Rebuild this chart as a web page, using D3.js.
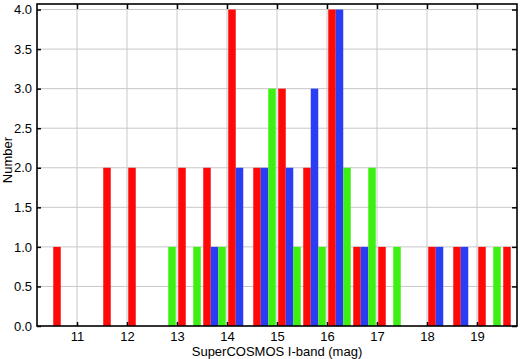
<!DOCTYPE html>
<html>
<head>
<meta charset="utf-8">
<script src="https://cdn.jsdelivr.net/npm/d3@7"></script>
<style>
  body { margin: 0; background: #fff; }
  svg text { font-family: "Liberation Sans", Arial, sans-serif; fill: #000; }
  .grid line { stroke: #c8c8c8; stroke-width: 1; }
  .axis path { display: none; }
  .axis line { stroke: #000; stroke-width: 1.5; }
</style>
</head>
<body>
<div id="chart"></div>
<script>
// bin starts (mag), bins are 0.5 mag wide
const binStarts = [10.5, 11.0, 11.5, 12.0, 12.5, 13.0, 13.5, 14.0, 14.5, 15.0,
                   15.5, 16.0, 16.5, 17.0, 17.5, 18.0, 18.5, 19.0, 19.5];
const redCounts   = [1, 0, 2, 2, 0, 2, 2, 4, 2, 3, 2, 4, 1, 1, 0, 1, 1, 1, 1];
const blueCounts  = [0, 0, 0, 0, 0, 0, 1, 2, 2, 2, 3, 4, 1, 0, 0, 1, 1, 0, 0];
const greenCounts = [0, 0, 0, 0, 1, 1, 1, 0, 3, 1, 1, 2, 2, 1, 0, 0, 0, 1, 0];
const xTicks = [11, 12, 13, 14, 15, 16, 17, 18, 19];
const yTicks = [0, 0.5, 1, 1.5, 2, 2.5, 3, 3.5, 4];

const width = 520, height = 359;
const margin = { top: 4, right: 3, bottom: 33, left: 37 };
const innerW = width - margin.left - margin.right;
const innerH = height - margin.top - margin.bottom;

const svg = d3.select("#chart").append("svg")
    .attr("width", width)
    .attr("height", height);
const g = svg.append("g")
    .attr("transform", "translate(" + margin.left + "," + margin.top + ")");

const x = d3.scaleLinear().domain([10.2, 19.8]).range([0, innerW]);
const y = d3.scaleLinear().domain([0, 4.07]).range([innerH, 0]);

// grid
const grid = g.append("g").attr("class", "grid");
grid.selectAll(".vg").data(xTicks).enter().append("line")
    .attr("x1", d => x(d)).attr("x2", d => x(d))
    .attr("y1", 0).attr("y2", innerH);
grid.selectAll(".hg").data(yTicks.slice(1)).enter().append("line")
    .attr("x1", 0).attr("x2", innerW)
    .attr("y1", d => y(d)).attr("y2", d => y(d));

// bars: red, blue, green side by side inside each bin
const series = [
    { counts: redCounts,   color: "#fe0808", offset: 0.025 },
    { counts: blueCounts,  color: "#2a3cf4", offset: 0.175 },
    { counts: greenCounts, color: "#3ef012", offset: 0.325 }
];
const barW = 0.15;
series.forEach(function (s) {
    const rows = binStarts.map((b, i) => ({ b: b, v: s.counts[i] })).filter(d => d.v > 0);
    g.append("g").selectAll("rect").data(rows).enter().append("rect")
        .attr("x", d => x(d.b + s.offset))
        .attr("width", d => x(d.b + s.offset + barW) - x(d.b + s.offset))
        .attr("y", d => y(d.v))
        .attr("height", d => y(0) - y(d.v))
        .attr("fill", s.color);
});

// axes with inward ticks
g.append("g").attr("class", "axis")
    .attr("transform", "translate(0," + innerH + ")")
    .call(d3.axisBottom(x).tickValues(xTicks).tickFormat(d3.format("d"))
        .tickSizeInner(-4).tickSizeOuter(0).tickPadding(6))
    .selectAll("text").style("font-size", "13px");
g.append("g").attr("class", "axis")
    .call(d3.axisTop(x).tickValues(xTicks).tickFormat("")
        .tickSizeInner(-5).tickSizeOuter(0));
g.append("g").attr("class", "axis")
    .call(d3.axisLeft(y).tickValues(yTicks).tickFormat(d3.format(".1f"))
        .tickSizeInner(-4).tickSizeOuter(0).tickPadding(5))
    .selectAll("text").style("font-size", "13px");
g.append("g").attr("class", "axis")
    .attr("transform", "translate(" + innerW + ",0)")
    .call(d3.axisRight(y).tickValues(yTicks).tickFormat("")
        .tickSizeInner(-5).tickSizeOuter(0));

// frame
g.append("rect")
    .attr("x", 0).attr("y", 0)
    .attr("width", innerW).attr("height", innerH)
    .attr("fill", "none").attr("stroke", "#000").attr("stroke-width", 1.6);

// titles
svg.append("text")
    .attr("x", margin.left + innerW / 2)
    .attr("y", 356)
    .attr("text-anchor", "middle")
    .style("font-size", "13px")
    .text("SuperCOSMOS I-band (mag)");
svg.append("text")
    .attr("transform", "translate(12,160) rotate(-90)")
    .attr("text-anchor", "middle")
    .style("font-size", "13px")
    .text("Number");
</script>
</body>
</html>
